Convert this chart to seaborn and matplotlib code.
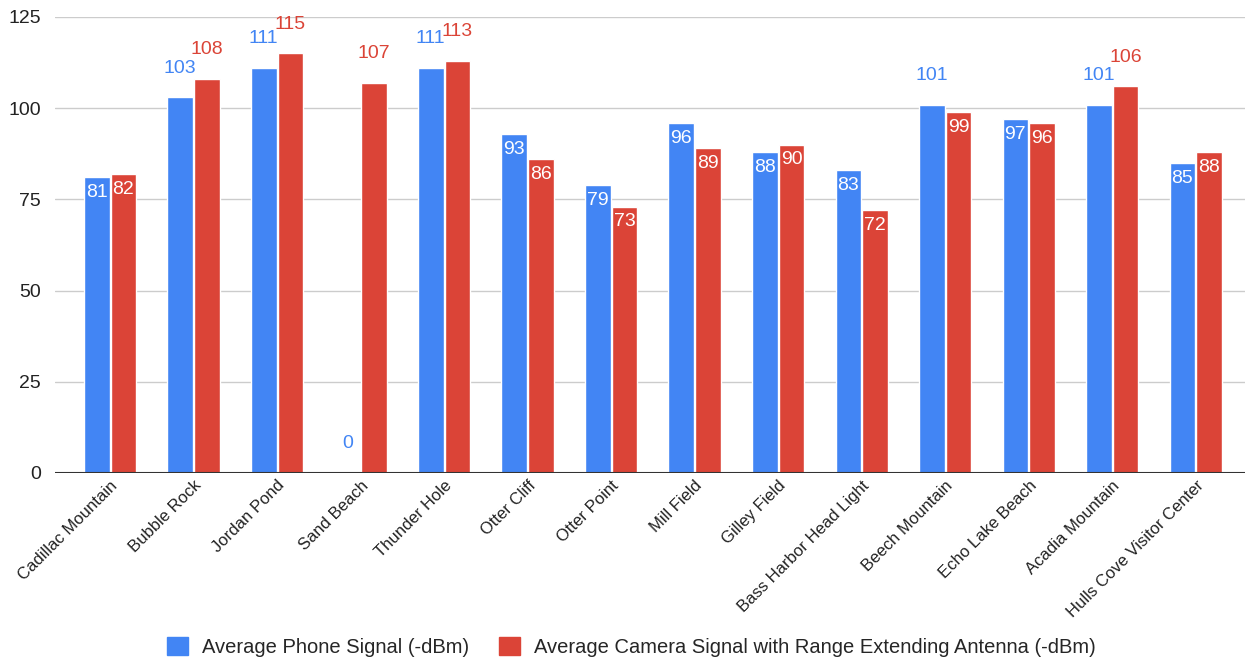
import matplotlib
matplotlib.use("Agg")
import matplotlib.pyplot as plt
import pandas as pd
import seaborn as sns

locations = ['Cadillac Mountain', 'Bubble Rock', 'Jordan Pond', 'Sand Beach',
             'Thunder Hole', 'Otter Cliff', 'Otter Point', 'Mill Field',
             'Gilley Field', 'Bass Harbor Head Light', 'Beech Mountain',
             'Echo Lake Beach', 'Acadia Mountain', 'Hulls Cove Visitor Center']
phone_signal = [81, 103, 111, 0, 111, 93, 79, 96, 88, 83, 101, 97, 101, 85]
camera_signal = [82, 108, 115, 107, 113, 86, 73, 89, 90, 72, 99, 96, 106, 88]
series_names = ['Average Phone Signal (-dBm)',
                'Average Camera Signal with Range Extending Antenna (-dBm)']
series_colors = ['#4285F4', '#DB4437']
y_ticks = [0, 25, 50, 75, 100, 125]


def main() -> None:
    df = pd.DataFrame({
        'location': locations * 2,
        'value': phone_signal + camera_signal,
        'series': [series_names[0]] * len(locations) + [series_names[1]] * len(locations),
    })

    sns.set_theme(style='white')
    plt.rcParams['font.family'] = ['Liberation Sans', 'DejaVu Sans']

    fig = plt.figure(figsize=(12.5, 6.64), dpi=100)
    ax = fig.add_axes([0.044, 0.2877, 0.952, 0.6867])

    sns.barplot(data=df, x='location', y='value', hue='series',
                palette=series_colors, width=0.64, gap=0.04,
                saturation=1, legend=False, ax=ax, zorder=3)

    ax.set_ylim(0, 125)
    ax.set_xlim(-0.66, len(locations) - 1 + 0.59)
    ax.set_yticks(y_ticks)
    ax.set_yticklabels([str(t) for t in y_ticks], fontsize=14, color='#222222')
    ax.grid(axis='y', color='#cccccc', linewidth=1, zorder=0)
    ax.axhline(0, color='#333333', linewidth=1.5, zorder=4)
    for s in ax.spines.values():
        s.set_visible(False)
    ax.tick_params(axis='both', length=0)
    ax.tick_params(axis='y', pad=10)
    ax.set_xlabel('')
    ax.set_ylabel('')
    plt.setp(ax.get_xticklabels(), rotation=45, ha='right', va='top',
             rotation_mode='anchor', fontsize=12, color='#222222')

    # data labels: 3-digit / zero labels don't fit, put them above the bar
    for cont, values, color in zip(ax.containers, [phone_signal, camera_signal],
                                   series_colors):
        for bar, v in zip(cont, values):
            x = bar.get_x() + bar.get_width() / 2
            if v >= 100 or v == 0:
                ax.annotate(str(v), (x, v), xytext=(0, 21), textcoords='offset points',
                            ha='center', va='center', fontsize=14, color=color,
                            zorder=5, annotation_clip=False)
            else:
                ax.annotate(str(v), (x, v), xytext=(0, -11), textcoords='offset points',
                            ha='center', va='center', fontsize=14, color='white',
                            zorder=5)

    handles = [plt.Rectangle((0, 0), 1, 1, color=c) for c in series_colors]
    fig.legend(handles, series_names, loc='center', bbox_to_anchor=(0.505, 0.026),
               ncol=2, frameon=False, handlelength=1.05, handleheight=1.05,
               handletextpad=0.7, columnspacing=1.45,
               prop={'size': 14.5})

    fig.savefig('out.png', dpi=100)


if __name__ == '__main__':
    main()
